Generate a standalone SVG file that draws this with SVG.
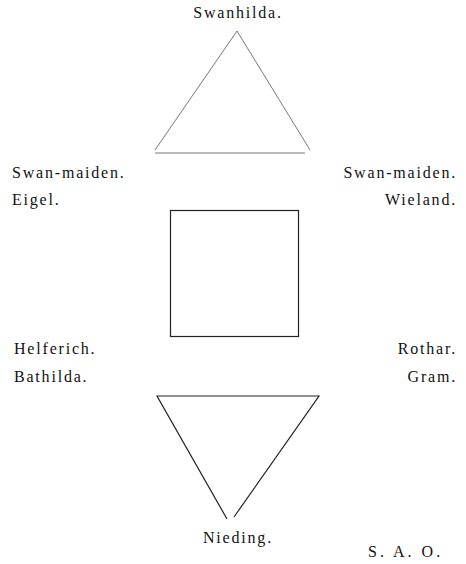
<svg xmlns="http://www.w3.org/2000/svg" width="466" height="564" viewBox="0 0 466 564">
<style>
text{font-family:"Liberation Serif","Times New Roman",serif;font-size:16px;fill:#111;letter-spacing:1.8px}
.l{stroke:#222;stroke-width:1.2;fill:none}
.f{stroke:#777;stroke-width:1;fill:none}
.e{text-anchor:end}
.m{text-anchor:middle}
</style>
<rect width="466" height="564" fill="#fff"/>
<g id="swanhilda">
<text class="m" x="238" y="18">Swanhilda.</text>
<polyline class="f" points="310,150 237,31 155,150"/>
<line class="f" x1="155" y1="153" x2="305" y2="153"/>
</g>
<g id="square">
<rect class="l" x="170.5" y="210.5" width="128" height="126"/>
</g>
<g id="nieding">
<polyline class="l" points="227,519 157,396 319,396 234,517"/>
<text class="m" x="238" y="543">Nieding.</text>
</g>
<g id="labels">
<text x="12" y="178">Swan-maiden.</text>
<text x="12" y="205">Eigel.</text>
<text class="e" x="457" y="178">Swan-maiden.</text>
<text class="e" x="457" y="205">Wieland.</text>
<text x="14" y="354">Helferich.</text>
<text x="14" y="382">Bathilda.</text>
<text class="e" x="457" y="354">Rothar.</text>
<text class="e" x="457" y="382">Gram.</text>
<text x="368" y="557" style="letter-spacing:3px">S. A. O.</text>
</g>
<g id="connectors"></g>
</svg>
